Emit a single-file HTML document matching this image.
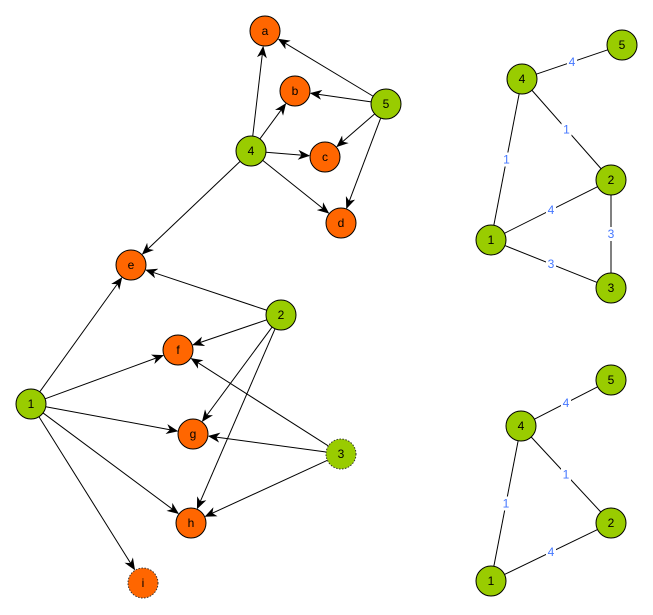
<!DOCTYPE html>
<html><head><meta charset="utf-8"><style>
html,body{margin:0;padding:0;background:#fff;width:653px;height:615px;overflow:hidden}
svg text{font-family:"Liberation Sans",sans-serif;font-size:12px}
</style></head><body>
<svg id="s" width="653" height="615" xmlns="http://www.w3.org/2000/svg">
<defs><marker id="ar" viewBox="0 0 12 10" refX="11" refY="5" markerWidth="12" markerHeight="10" markerUnits="userSpaceOnUse" orient="auto"><path d="M0,0 L12,5 L0,10 L3.5,5 z" fill="#000"/></marker></defs>
</svg>
<script>
var s=document.getElementById('s'),NS='http://www.w3.org/2000/svg',R=15;
var G='#99cc00',O='#ff6600';
var N={a:[265,31,O],b:[295,91,O],c:[325,157,O],d:[341,223,O],p5:[386,104,G],p4:[251,151,G],e:[131,265,O],p2:[281,315,G],f:[178,350,O],p1:[31,404,G],g:[193,434,O],p3:[341,454,G,1],h:[191,523,O],i:[143,583,O,1],
A5:[622,45,G],A4:[522,79,G],A2:[611,180,G],A1:[491,240,G],A3:[611,288,G],
B5:[611,380,G],B4:[521,426,G],B2:[611,523,G],B1:[491,581,G]};
function el(t,a,p){var e=document.createElementNS(NS,t);for(var k in a)e.setAttribute(k,a[k]);(p||s).appendChild(e);return e}
function edge(u,v,arrow,lab){var A=N[u],B=N[v],dx=B[0]-A[0],dy=B[1]-A[1],L=Math.hypot(dx,dy),ux=dx/L,uy=dy/L;
var x1=A[0]+ux*R,y1=A[1]+uy*R,x2=B[0]-ux*(R+(arrow?1:0)),y2=B[1]-uy*(R+(arrow?1:0));
var a={x1:x1,y1:y1,x2:x2,y2:y2,stroke:'#000','stroke-width':1};if(arrow)a['marker-end']='url(#ar)';el('line',a);
if(lab){var mx=(A[0]+B[0])/2,my=(A[1]+B[1])/2;el('rect',{x:mx-5,y:my-7,width:10,height:14,fill:'#fff'});var t=el('text',{x:mx,y:my+4,'text-anchor':'middle',fill:'#4477ff'});t.textContent=lab;}}
[['p4','a'],['p4','b'],['p4','c'],['p4','d'],['p5','a'],['p5','b'],['p5','c'],['p5','d'],['p4','e'],['p2','e'],['p2','f'],['p2','g'],['p2','h'],['p1','e'],['p1','f'],['p1','g'],['p1','h'],['p1','i'],['p3','f'],['p3','g'],['p3','h']].forEach(function(x){edge(x[0],x[1],1)});
[['A4','A5','4'],['A4','A2','1'],['A4','A1','1'],['A1','A2','4'],['A2','A3','3'],['A1','A3','3'],['B4','B5','4'],['B4','B2','1'],['B4','B1','1'],['B1','B2','4']].forEach(function(x){edge(x[0],x[1],0,x[2])});
for(var k in N){var n=N[k];var c={cx:n[0],cy:n[1],r:R,fill:n[2],stroke:'#000','stroke-width':1};if(n[3]){c['stroke-dasharray']='1.5,1.5';c.stroke='#333';}el('circle',c);
var t=el('text',{x:n[0],y:n[1]+4,'text-anchor':'middle',fill:'#000'});t.textContent=k.length==1?k:k.charAt(k.length-1);}
</script>
</body></html>
